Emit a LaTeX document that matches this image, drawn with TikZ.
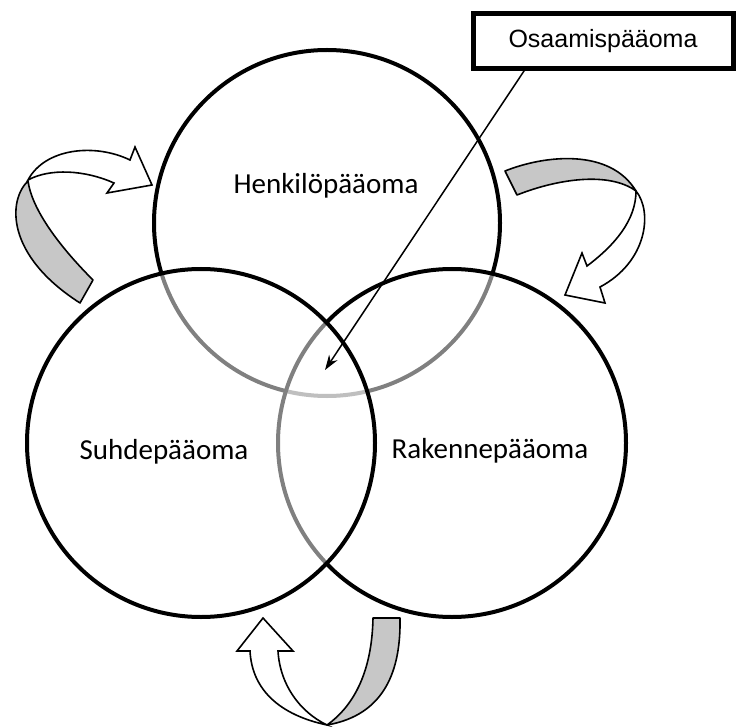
\documentclass[tikz,border=0pt]{standalone}
\usepackage{fontspec}
\setmainfont{Carlito}
\newfontfamily\boxfont{Liberation Sans}
\usetikzlibrary{arrows.meta}
\begin{document}
\begin{tikzpicture}[x=1pt,y=-1pt,
  capital/.style={line width=4pt,fill=white,fill opacity=0.5},
  label/.style={anchor=base,font=\fontsize{29}{34}\selectfont},
  twistband/.style={line width=1.6pt,fill=black!22,line join=round},
  arrowbody/.style={line width=1.6pt,fill=white,line join=miter}]
\useasboundingbox (0,0) rectangle (736,727);

\draw[capital] (327,223) circle[radius=173];
\draw[capital] (452,443) circle[radius=174];
\draw[capital] (201,443) circle[radius=174];

\node[label] (henk) at (326,194) {Henkilöpääoma};
\node[label] (suhde) at (164,459) {Suhdepääoma};
\node[label] (rake) at (490,458) {Rakennepääoma};

\node[draw,line width=5pt,minimum width=260pt,minimum height=55pt,
  font=\boxfont\fontsize{25}{30}\selectfont] (osaa) at (603,41) {Osaamispääoma};
\coordinate (osaafoot) at (526,68);
\coordinate (core) at (325,370);
\draw[line width=1.5pt,-{Stealth[length=15pt,width=10pt]}] (osaafoot) -- (core);

\draw[twistband] (80,303) -- (93,280) .. controls (60,247) and (32,210) .. (28,181)
  .. controls (8,200) and (5,255) .. cycle;
\draw[arrowbody] (28,180) .. controls (45,148) and (95,143) .. (130,160)
  -- (135,147) -- (152,185) -- (107,193) -- (114,183)
  .. controls (85,170) and (50,168) .. cycle;

\draw[twistband] (505,171) .. controls (545,155) and (610,148) .. (636,191)
  .. controls (610,172) and (560,178) .. (517,195) -- cycle;
\draw[arrowbody] (636,191) .. controls (653,212) and (647,262) .. (600,287)
  -- (605,303) -- (565,295) -- (582,253) -- (587,266)
  .. controls (615,245) and (636,220) .. cycle;

\draw[twistband] (373,618) -- (400,618) .. controls (401,670) and (385,715) .. (327,725)
  .. controls (355,705) and (372,670) .. cycle;
\draw[arrowbody] (327,725) .. controls (280,715) and (252,690) .. (250,651)
  -- (237,651) -- (263,618) -- (293,651) -- (278,651)
  .. controls (280,685) and (300,712) .. cycle;
\end{tikzpicture}
\end{document}
